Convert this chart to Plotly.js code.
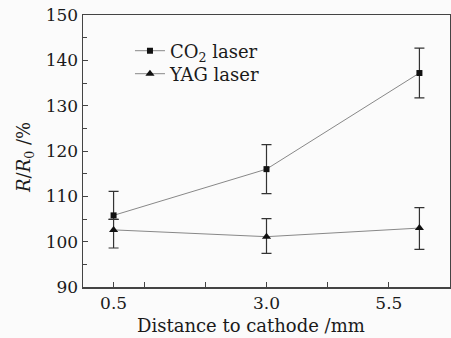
<!DOCTYPE html>
<html>
<head>
<meta charset="utf-8">
<script src="https://cdn.plot.ly/plotly-3.0.1.min.js"></script>
<style>html,body{margin:0;padding:0;background:#fbfbfb;}#chart{width:451px;height:338px;}</style>
</head>
<body>
<div id="chart"></div>
<script>
// Data
const distances = [0.5, 3.0, 5.5];
const co2Values = [105.8, 116.0, 137.2];
const co2ErrPlus = [5.3, 5.4, 5.5];
const co2ErrMinus = [0.9, 5.4, 5.5];
const yagValues = [102.6, 101.1, 103.0];
const yagErrPlus = [2.3, 4.0, 4.5];
const yagErrMinus = [4.0, 3.7, 4.7];
const xTickVals = [0.5, 3, 5];
const xTickText = ['0.5', '3.0', '5.5'];
const xMinorTickVals = [1, 2, 4];
const seriesNames = ['CO<sub>2</sub> laser', 'YAG laser'];

const font = '"DejaVu Serif", serif';
const txt = '#1a1a1a';
const lineStyle = {color: '#888888', width: 1};
const errStyle = {color: '#333333', thickness: 1.2, width: 5};

const traces = [
  {
    x: distances, y: co2Values, name: seriesNames[0], type: 'scatter', mode: 'lines+markers',
    legend: 'legend',
    line: lineStyle, marker: {symbol: 'square', size: 6, color: '#111'},
    error_y: Object.assign({type: 'data', symmetric: false, array: co2ErrPlus, arrayminus: co2ErrMinus}, errStyle)
  },
  {
    x: distances, y: yagValues, name: seriesNames[1], type: 'scatter', mode: 'lines+markers',
    legend: 'legend2',
    line: lineStyle, marker: {symbol: 'triangle-up', size: 8, color: '#111'},
    error_y: Object.assign({type: 'data', symmetric: false, array: yagErrPlus, arrayminus: yagErrMinus}, errStyle)
  }
];

const legendBase = {xanchor: 'left', yanchor: 'middle', bgcolor: 'rgba(0,0,0,0)',
  font: {family: font, size: 18, color: txt}, itemwidth: 30};
const py = v => 1 - (v - 15) / 272;
const px = v => (v - 83) / 367;

const layout = {
  width: 451, height: 338,
  margin: {l: 83, r: 1, t: 15, b: 51},
  paper_bgcolor: '#fbfbfb', plot_bgcolor: '#fbfbfb',
  font: {family: font, size: 18, color: txt},
  showlegend: true,
  legend: Object.assign({x: 0.128, y: py(51)}, legendBase),
  legend2: Object.assign({x: 0.128, y: py(74)}, legendBase),
  xaxis: {
    range: [0, 6], tickmode: 'array', tickvals: xTickVals, ticktext: xTickText,
    ticks: 'inside', ticklen: 5, tickcolor: '#444', tickwidth: 1,
    minor: {tickmode: 'array', tickvals: xMinorTickVals, ticks: 'inside', ticklen: 5, tickcolor: '#444', tickwidth: 1},
    showline: true, linecolor: '#444', linewidth: 1.5, mirror: true,
    showgrid: false, zeroline: false,
    tickfont: {family: font, size: 17, color: txt}
  },
  yaxis: {
    range: [90, 150], tickmode: 'linear', tick0: 90, dtick: 10,
    ticks: 'inside', ticklen: 5, tickcolor: '#444', tickwidth: 1,
    minor: {dtick: 5, ticks: 'inside', ticklen: 4, tickcolor: '#444'},
    showline: true, linecolor: '#444', linewidth: 1.5, mirror: true,
    showgrid: false, zeroline: false,
    tickfont: {family: font, size: 17, color: txt}
  },
  annotations: [
    {text: 'Distance to cathode /mm', xref: 'paper', yref: 'paper', x: px(251), y: py(325),
     xanchor: 'center', yanchor: 'middle', showarrow: false, font: {family: font, size: 18, color: txt}},
    {text: '<i>R</i>/<i>R</i><sub>0</sub> /%', xref: 'paper', yref: 'paper', x: px(25), y: py(158),
     xanchor: 'center', yanchor: 'middle', textangle: -90, showarrow: false, font: {family: font, size: 18, color: txt}}
  ]
};

Plotly.newPlot('chart', traces, layout, {displayModeBar: false, staticPlot: true});
</script>
</body>
</html>
